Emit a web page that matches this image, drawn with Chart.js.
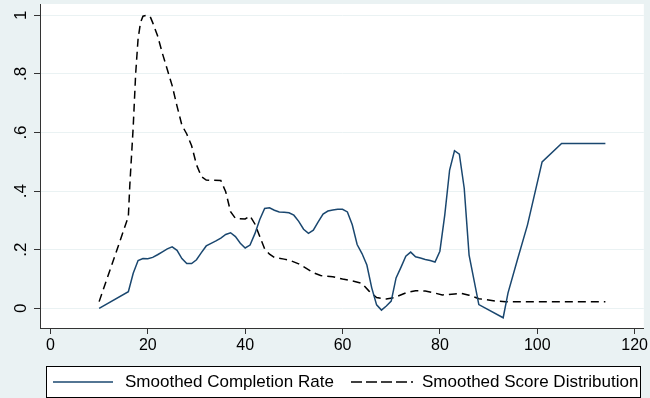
<!DOCTYPE html>
<html>
<head>
<meta charset="utf-8">
<script src="https://cdn.jsdelivr.net/npm/chart.js@4.4.1/dist/chart.umd.min.js"></script>
<style>
  html, body { margin: 0; padding: 0; background: #eaf2f3; }
  #wrap { width: 650px; height: 398px; }
</style>
</head>
<body>
<div id="wrap"><canvas id="chart" width="650" height="398"></canvas></div>
<script>
// values
const completionX = [10, 16, 17, 18, 19, 20, 21, 22, 23, 24, 25, 26, 27, 28, 29, 30, 31, 32, 33, 34, 35, 36, 37, 38, 39, 40,
  41, 42, 43, 44, 45, 46, 47, 48, 49, 50, 51, 52, 53, 54, 55, 56, 57, 58, 59, 60, 61, 62, 63, 64, 65, 66, 67, 68, 69, 70,
  71, 72, 73, 74, 75, 76, 77, 78, 79, 80, 81, 82, 83, 84, 85, 86, 88, 93, 94, 96, 98, 101, 105, 114];
const completionY = [0, 0.057, 0.12, 0.163, 0.17, 0.169, 0.174, 0.183, 0.193, 0.203, 0.21, 0.198, 0.17, 0.153, 0.153, 0.166,
  0.19, 0.213, 0.222, 0.23, 0.24, 0.252, 0.258, 0.245, 0.222, 0.206, 0.216, 0.255, 0.303, 0.341, 0.343, 0.335, 0.329, 0.328,
  0.326, 0.318, 0.297, 0.27, 0.256, 0.267, 0.295, 0.322, 0.332, 0.336, 0.338, 0.338, 0.329, 0.285, 0.218, 0.187, 0.148, 0.07,
  0.012, -0.006, 0.008, 0.025, 0.104, 0.14, 0.178, 0.192, 0.176, 0.172, 0.167, 0.163, 0.158, 0.195, 0.318, 0.472, 0.538,
  0.526, 0.41, 0.182, 0.013, -0.032, 0.053, 0.17, 0.285, 0.5, 0.563, 0.563];

const scoreX = [10, 16, 16.3, 17, 17.5, 18, 18.5, 19, 19.7, 20.5, 21, 22, 23, 24, 25, 26, 27, 28, 29, 30, 31, 32, 35, 36, 37,
  38, 40, 41, 42, 43, 44, 45, 46, 48, 49, 51, 54, 55.5, 58, 60, 62.5, 64, 65.5, 67, 69, 70.5, 73, 75, 77, 78.5, 80.5, 83,
  84.5, 86, 88, 91.5, 93.5, 114];
const scoreY = [0.023, 0.313, 0.42, 0.62, 0.8, 0.92, 0.975, 0.997, 1.0, 0.995, 0.975, 0.93, 0.87, 0.815, 0.76, 0.69, 0.625,
  0.595, 0.555, 0.49, 0.45, 0.438, 0.436, 0.398, 0.33, 0.307, 0.305, 0.315, 0.288, 0.245, 0.203, 0.185, 0.174, 0.168, 0.165,
  0.152, 0.122, 0.112, 0.108, 0.1, 0.092, 0.085, 0.058, 0.037, 0.032, 0.036, 0.053, 0.06, 0.059, 0.054, 0.046, 0.049, 0.051,
  0.045, 0.033, 0.025, 0.023, 0.023];

const seriesNames = ["Smoothed Completion Rate", "Smoothed Score Distribution"];
const xTicks = [0, 20, 40, 60, 80, 100, 120];
const yTicks = [0, 0.2, 0.4, 0.6, 0.8, 1];

const FONT = "'Liberation Sans', Arial, sans-serif";
const NAVY = "#1a476f";
const DASH = [8, 5];

function toPoints(xs, ys) {
  return xs.map((x, i) => ({ x: x, y: ys[i] }));
}

function yLabel(v) {
  const s = String(Number(v.toFixed(1)));
  return s.startsWith("0.") ? s.slice(1) : s;
}

const stataLook = {
  id: "stataLook",
  beforeDraw(chart) {
    const { ctx, chartArea: a } = chart;
    ctx.save();
    ctx.fillStyle = "#ffffff";
    ctx.fillRect(a.left, a.top, a.right - a.left, a.bottom - a.top);
    ctx.restore();
  },
  afterDraw(chart) {
    const ctx = chart.ctx;
    const ys = chart.scales.y;
    ctx.save();
    // rotated y tick labels
    ctx.fillStyle = "#000";
    ctx.font = "17px " + FONT;
    ctx.textAlign = "center";
    ctx.textBaseline = "alphabetic";
    yTicks.forEach(v => {
      const py = ys.getPixelForValue(v);
      ctx.save();
      ctx.translate(26, py);
      ctx.rotate(-Math.PI / 2);
      ctx.fillText(yLabel(v), 0, 0);
      ctx.restore();
    });
    // legend
    ctx.fillStyle = "#ffffff";
    ctx.fillRect(46.5, 366.5, 594, 31);
    ctx.strokeStyle = "#000";
    ctx.lineWidth = 1;
    ctx.strokeRect(46.5, 366.5, 594, 31);
    const ly = 382;
    ctx.lineWidth = 1.5;
    ctx.strokeStyle = NAVY;
    ctx.beginPath(); ctx.moveTo(53, ly); ctx.lineTo(113, ly); ctx.stroke();
    ctx.strokeStyle = "#000";
    ctx.setLineDash([11, 4]);
    ctx.beginPath(); ctx.moveTo(351, ly); ctx.lineTo(413, ly); ctx.stroke();
    ctx.setLineDash([]);
    ctx.fillStyle = "#000";
    ctx.font = "17px " + FONT;
    ctx.textAlign = "left";
    ctx.textBaseline = "middle";
    ctx.fillText(seriesNames[0], 125, ly);
    ctx.fillText(seriesNames[1], 422, ly);
    ctx.restore();
  }
};

const chart = new Chart(document.getElementById("chart"), {
  type: "line",
  data: {
    datasets: [
      {
        label: seriesNames[0],
        data: toPoints(completionX, completionY),
        borderColor: NAVY,
        borderWidth: 1.5,
        pointRadius: 0,
        tension: 0,
        fill: false
      },
      {
        label: seriesNames[1],
        data: toPoints(scoreX, scoreY),
        borderColor: "#000",
        borderWidth: 1.5,
        borderDash: DASH,
        pointRadius: 0,
        tension: 0,
        fill: false
      }
    ]
  },
  options: {
    responsive: false,
    animation: false,
    devicePixelRatio: 1,
    layout: { padding: { top: 4, right: 4, left: 0, bottom: 0 } },
    plugins: { legend: { display: false }, tooltip: { enabled: false } },
    scales: {
      x: {
        type: "linear",
        min: -2.15,
        max: 121.9,
        afterFit: s => { s.height = 70; },
        afterBuildTicks: s => { s.ticks = xTicks.map(v => ({ value: v })); },
        ticks: { includeBounds: false, color: "#000", font: { family: FONT, size: 16 }, padding: 2, maxRotation: 0 },
        grid: { display: true, drawOnChartArea: false, drawTicks: true, tickLength: 6, tickColor: "#333" },
        border: { display: true, color: "#333", width: 1 }
      },
      y: {
        type: "linear",
        min: -0.067,
        max: 1.0386,
        afterFit: s => { s.width = 40; },
        afterBuildTicks: s => { s.ticks = yTicks.map(v => ({ value: v })); },
        ticks: { display: false, includeBounds: false },
        grid: { color: "#eaf2f3", lineWidth: 1, drawTicks: true, tickLength: 6, tickColor: "#333" },
        border: { display: true, color: "#333", width: 1 }
      }
    }
  },
  plugins: [stataLook]
});
</script>
</body>
</html>
